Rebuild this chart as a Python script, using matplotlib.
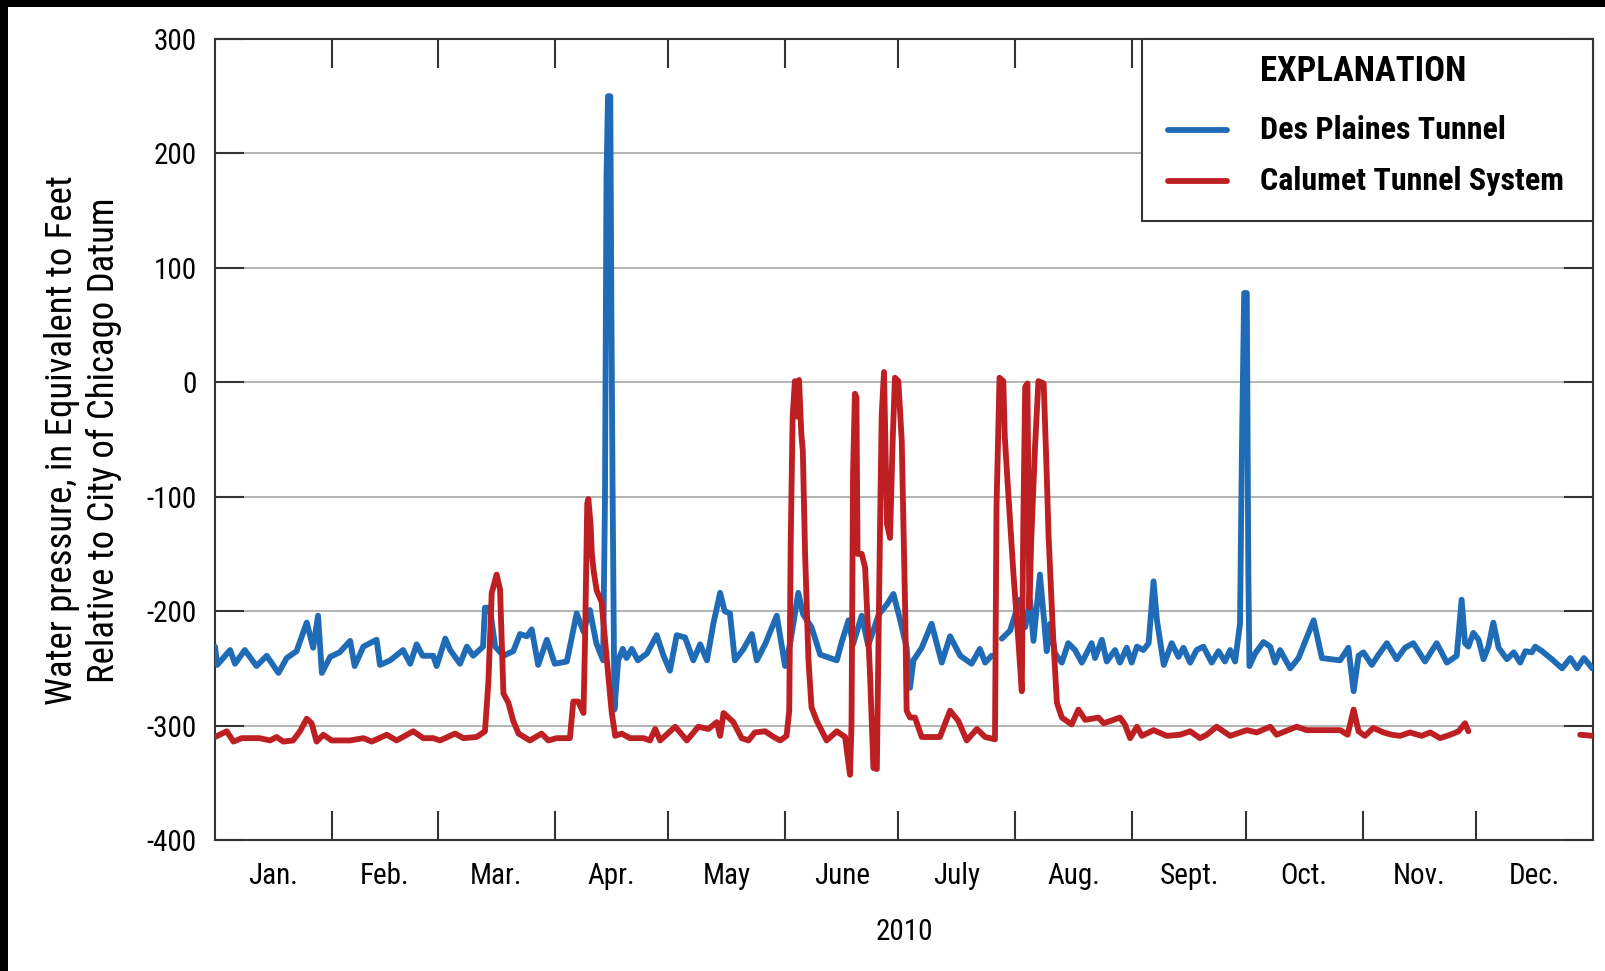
import numpy as np
import matplotlib
matplotlib.use("Agg")
import matplotlib.pyplot as plt
import matplotlib.font_manager as fm
from matplotlib.lines import Line2D
from matplotlib.patches import Rectangle

# ---------------- data (day of year 2010, feet) ----------------
dp_day = [0, 0.6, 4.0, 5.3, 7.9, 11.0, 13.7, 16.8, 19.0, 21.6, 24.3, 26.0, 27.3, 28.3, 30.5, 33.0,
          35.8, 37.0, 39.3, 42.8, 43.7, 46.4, 49.8, 51.7, 53.4, 55.0, 57.8, 58.7, 61.0, 62.3, 64.9,
          66.7, 68.4, 71.0, 71.5, 72.8, 74.2, 76.4, 79.0, 80.8, 82.6, 83.9, 85.6, 87.9, 90.0, 93.2,
          95.8, 97.6, 99.3, 101.0, 102.8, 103.3, 103.7, 104.1, 104.7, 105.0, 105.3, 105.8, 106.8,
          108.0, 109.0, 110.4, 112.0, 114.4, 117.0, 118.8, 120.5, 122.3, 124.5, 126.7, 128.5, 130.3,
          132.0, 133.8, 135.0, 136.4, 137.7, 140.0, 142.2, 143.5, 145.7, 148.8, 151.0, 152.3, 154.5,
          155.8, 158.0, 160.3, 164.7, 166.0, 167.8, 169.0, 171.3, 173.0, 175.8, 178.0, 179.7, 181.5,
          183.2, 184.1, 185.0, 187.2, 189.8, 192.5, 194.7, 197.4, 200.4, 202.6, 204.0, 205.7, 207.0,
          208.4, 210.6, 213.2, 214.6, 215.9, 216.8, 218.5, 219.6, 220.3, 221.2, 222.5, 224.3, 226.0,
          227.8, 229.6, 232.2, 233.1, 234.9, 236.2, 238.4, 239.7, 241.5, 242.8, 244.2, 245.9, 247.3,
          248.6, 249.5, 251.3, 253.4, 255.2, 256.5, 258.3, 260.0, 261.8, 264.0, 265.8, 267.5, 268.9,
          270.2, 271.5, 272.0, 272.6, 273.3, 273.7, 274.0, 275.5, 277.7, 279.5, 280.8, 282.1, 284.8,
          287.0, 291.0, 293.2, 298.0, 300.2, 301.6, 302.9, 304.2, 306.4, 308.2, 310.4, 313.0, 315.2,
          317.4, 320.5, 323.6, 326.3, 328.9, 330.2, 331.1, 332.0, 333.3, 334.7, 336.0, 337.3, 338.6,
          340.0, 342.2, 344.0, 345.7, 347.1, 348.8, 349.7, 351.5, 354.1, 356.8, 359.0, 360.8, 362.6,
          364.8]
dp_val = [-231, -247, -234, -246, -234, -248, -239, -254, -241, -235, -210, -232, -204, -254, -240, -236,
          -226, -248, -231, -225, -247, -243, -234, -246, -229, -239, -239, -248, -224, -234, -246,
          -231, -239, -231, -197, -197, -231, -239, -235, -220, -222, -216, -247, -225, -246, -244,
          -202, -218, -199, -228, -243, -100, 180, 250, 250, 60, -90, -286, -243,
          -233, -241, -233, -243, -237, -221, -239, -252, -221, -223, -243, -229, -243,
          -211, -184, -200, -202, -243, -233, -220, -243, -229, -204, -248, -229, -184,
          -203, -214, -238, -243, -227, -208, -229, -204, -230, -203, -194, -185, -208,
          -232, -267, -243, -232, -211, -245, -222, -239, -246, -233, -245, -239, np.nan,
          -224, -217, -190, -214, -191, -226, -168, -208, -235, -211, -237, -245, -228,
          -234, -245, -228, -241, -225, -244, -234, -245, -232, -245, -231, -234, -228,
          -174, -208, -247, -228, -240, -232, -245, -234, -231, -245, -235, -244, -234,
          -244, -211, -60, 78, 78, -164, -248, -237, -227, -231, -245, -234, -250,
          -241, -208, -241, -243, -232, -270, -239, -236, -247, -238, -228, -242, -232,
          -228, -244, -228, -245, -239, -190, -228, -231, -219, -225, -242, -231, -210,
          -232, -242, -236, -245, -235, -236, -231, -235, -242, -250, -241, -250, -241,
          -250]

ct_day = [0, 3.1, 4.9, 7.1, 11.8, 14.6, 16.3, 18.1, 20.7, 22.5, 24.3, 25.6, 26.9, 28.7, 30.9, 35.8,
          39.3, 41.5, 45.5, 48.1, 52.5, 55.2, 57.8, 59.6, 63.6, 65.8, 69.3, 71.5, 72.4, 73.3, 74.6,
          75.5, 76.4, 77.7, 79.0, 80.4, 83.4, 86.5, 88.3, 90.5, 94.0, 94.9, 96.2, 97.6, 98.0, 98.6,
          98.9, 99.5, 99.8, 100.3, 101.1, 102.4, 103.8, 105.1, 106.0, 107.7, 109.9, 113.5, 115.2,
          116.6, 117.9, 121.9, 125.0, 128.0, 130.7, 132.9, 133.8, 134.7, 137.3, 139.5, 141.3, 143.0,
          145.7, 148.0, 149.7, 151.4, 152.1, 152.5, 153.0, 153.6, 154.2, 154.7, 155.3, 155.7, 156.3,
          157.2, 158.0, 159.4, 162.0, 164.7, 166.9, 168.2, 168.6, 169.0, 169.5, 169.9, 170.2, 171.3,
          172.2, 173.5, 174.4, 175.3, 176.2, 176.6, 177.2, 178.0, 178.8, 179.5, 180.1, 181.0, 181.9,
          182.8, 183.2, 184.1, 185.4, 187.2, 192.0, 194.7, 196.9, 199.1, 201.8, 204.0, 206.6, 207.0,
          207.8, 208.8, 209.2, 210.2, 211.5, 212.8, 213.7, 214.1, 214.6, 215.2, 215.7, 216.2, 217.2,
          218.1, 219.5, 220.3, 220.8, 222.0, 223.0, 224.3, 226.9, 228.7, 230.5, 234.0, 235.4, 239.7,
          241.0, 242.4, 244.2, 245.5, 248.6, 252.1, 255.6, 258.3, 260.9, 262.7, 265.3, 268.9, 273.3,
          275.9, 279.5, 281.2, 286.5, 289.2, 298.0, 300.0, 301.6, 302.9, 304.6, 306.8, 309.5, 311.7,
          313.9, 316.5, 319.6, 321.9, 324.5, 327.2, 329.4, 331.1, 332.0, 345.0, 361.6, 365.0]
ct_val = [-310, -305, -314, -311, -311, -313, -310, -314, -313, -305, -294, -298, -314, -308, -313, -313,
          -311, -314, -308, -313, -305, -311, -311, -313, -307, -311, -310, -305, -263, -184, -168,
          -181, -272, -280, -296, -307, -313, -307, -313, -311, -311, -279, -279, -289, -228, -106,
          -102, -125, -149, -165, -182, -192, -243, -289, -309, -307, -311, -311, -313,
          -303, -313, -301, -313, -301, -303, -297, -309, -289, -297, -311, -313, -306,
          -305, -310, -313, -309, -287, -138, -31, 1, -30, 2, -45, -60, -150,
          -243, -284, -296, -313, -305, -310, -343, -299, -80, -10, -13, -150, -150,
          -162, -255, -337, -338, -115, -28, 9, -124, -136, -51, 4, 1, -51,
          -197, -287, -293, -293, -310, -310, -287, -296, -313, -303, -310, -312, -109,
          4, 1, -48, -101, -168, -226, -270, -124, -4, -1, -197, -138, -57,
          1, -1, -80, -135, -222, -280, -293, -299, -286, -295, -293, -298, -293,
          -299, -311, -301, -309, -304, -309, -308, -305, -311, -308, -301, -309, -304,
          -306, -301, -308, -301, -304, -304, -308, -286, -305, -309, -302, -306, -308,
          -309, -306, -309, -306, -311, -308, -305, -298, -305, np.nan, -308, -309]

month_starts = [0, 31, 59, 90, 120, 151, 181, 212, 243, 273, 304, 334, 365]
month_labels = ["Jan.", "Feb.", "Mar.", "Apr.", "May", "June", "July", "Aug.", "Sept.", "Oct.", "Nov.", "Dec."]
y_ticks = [300, 200, 100, 0, -100, -200, -300, -400]
series_names = ["Des Plaines Tunnel", "Calumet Tunnel System"]
year_label = "2010"

# ---------------- fonts ----------------
names = {f.name for f in fm.fontManager.ttflist}
FONT = "DejaVu Sans"
for cand in ["Liberation Sans Narrow", "Roboto Condensed", "Open Sans Condensed", "Liberation Sans"]:
    if cand in names:
        FONT = cand
        break
plt.rcParams["font.family"] = [FONT, "DejaVu Sans"]

BLUE = "#1F6BB6"
RED = "#BD1F22"
W, H = 1606, 971

fig = plt.figure(figsize=(W / 100, H / 100), dpi=100)
ax = fig.add_axes([215 / W, (H - 840) / H, (1593 - 215) / W, (840 - 39) / H])

ax.plot(dp_day, dp_val, color=BLUE, lw=4.2, solid_joinstyle="round", solid_capstyle="round", zorder=3)
ax.plot(ct_day, ct_val, color=RED, lw=4.2, solid_joinstyle="round", solid_capstyle="round", zorder=4)

ax.set_xlim(0, 365)
ax.set_ylim(-400, 300)

# y axis
ax.set_yticks(y_ticks)
ax.set_yticklabels([str(v) for v in y_ticks])
ax.tick_params(axis="y", which="major", direction="in", length=21, width=1.5, color="#333333",
               labelsize=21, pad=13, right=True, left=True)
for v in y_ticks[1:-1]:
    ax.axhline(v, color="#b3b3b3", lw=1.4, zorder=1)

# x axis: month boundaries as ticks, labels at centres
ax.set_xticks(month_starts[1:-1])
ax.set_xticklabels([])
ax.tick_params(axis="x", which="major", direction="in", length=21, width=1.5, color="#333333",
               top=True, bottom=True)
centres = [(a + b) / 2 for a, b in zip(month_starts[:-1], month_starts[1:])]
ax.set_xticks(centres, minor=True)
ax.set_xticklabels(month_labels, minor=True)
ax.tick_params(axis="x", which="minor", length=0, labelsize=21, pad=16)

for s in ax.spines.values():
    s.set_color("#333333")
    s.set_linewidth(1.5)

ax.set_xlabel(year_label, fontsize=21, labelpad=20)

fig.text(83 / W, (H - 440) / H,
         "Water pressure, in Equivalent to Feet\nRelative to City of Chicago Datum",
         rotation=90, ha="center", va="center", multialignment="center",
         fontsize=26.5, linespacing=1.2)

# legend ("EXPLANATION")
lx0 = (1142 - 215) / 1378
ly0 = (840 - 221) / 801
ax.add_patch(Rectangle((lx0, ly0), 1 - lx0, 1 - ly0, transform=ax.transAxes,
                       facecolor="white", edgecolor="#333333", lw=1.5, zorder=10, clip_on=False))
tx = (1260 - 215) / 1378
ax.text(tx, (840 - 72) / 801, "EXPLANATION", transform=ax.transAxes, fontsize=25,
        fontweight="bold", ha="left", va="center", zorder=11)
hx = [(1168 - 215) / 1378, (1227 - 215) / 1378]
for name, col, ypix in zip(series_names, [BLUE, RED], [130, 181]):
    yy = (840 - ypix) / 801
    ax.add_line(Line2D(hx, [yy, yy], transform=ax.transAxes, color=col, lw=4.2,
                       solid_capstyle="round", zorder=11))
    ax.text(tx, yy, name, transform=ax.transAxes, fontsize=23, fontweight="bold",
            ha="left", va="center", zorder=11)

# black border strips of the scan
fig.patches.append(Rectangle((0, 1 - 7 / H), 1, 7 / H, transform=fig.transFigure,
                             facecolor="black", edgecolor="none", zorder=20))
fig.patches.append(Rectangle((0, 0), 8 / W, 1, transform=fig.transFigure,
                             facecolor="black", edgecolor="none", zorder=20))

fig.savefig("out.png", dpi=100, facecolor="white")
